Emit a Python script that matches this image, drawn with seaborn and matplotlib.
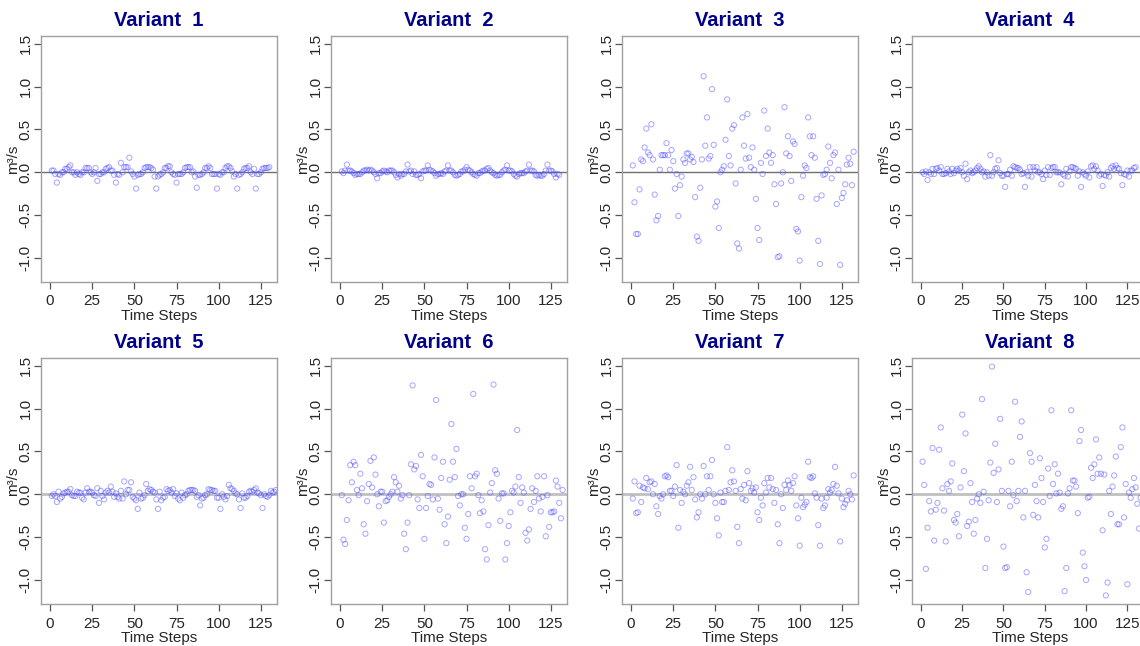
import numpy as np
import pandas as pd
import seaborn as sns
from matplotlib import pyplot as plt

# residuals per variant
variant_1 = [0.02, 0.02, -0.02, -0.12, -0.02, -0.03, 0, 0, 0.04, 0.04, 0.06, 0.08, 0, 0, -0.03, 0, -0.02, -0.03, 0, 0,
             0.05, 0.05, 0.05, 0, -0.02, 0, 0.05, -0.1, -0.02, -0.02, 0, 0, 0.04, 0.05, 0.06, 0.02, 0.02, -0.03, -0.12,
             -0.02, -0.03, 0.11, 0, 0.06, 0.06, 0.06, 0.17, 0.01, -0.02, -0.05, -0.19, -0.03, -0.02, -0.02, 0, 0.05,
             0.06, 0.06, 0.06, 0.05, 0.03, -0.05, -0.19, -0.05, -0.03, -0.02, 0, 0.05, 0.05, 0.07, 0.07, 0, -0.02,
             -0.03, -0.12, -0.02, -0.02, -0.02, 0, 0.05, 0.06, 0.06, 0.06, 0, 0.01, -0.05, -0.18, -0.03, -0.03, -0.02,
             0, 0.05, 0.05, 0.07, 0.05, -0.02, -0.02, -0.02, -0.19, -0.02, -0.03, 0, 0, 0.05, 0.07, 0.07, 0.05, 0.01,
             -0.05, -0.02, -0.19, -0.03, -0.02, 0, 0.04, 0.05, 0.05, 0.07, 0, -0.02, 0.04, -0.19, -0.02, -0.02, 0,
             0.04, 0.05, 0.05, 0.05, 0.06]
variant_2 = [0.01, -0.01, 0.02, 0.09, 0.02, 0.02, 0.01, -0.01, -0.03, -0.02, -0.02, -0.02, 0, 0.02, 0.02, 0.03, 0.02,
             0.03, 0.02, 0, -0.02, -0.07, -0.01, -0.01, 0.01, 0.02, 0.01, 0, 0.02, 0.02, 0.02, 0, -0.03, -0.06, -0.02,
             -0.04, -0.02, -0.02, 0.01, 0.09, 0.01, 0.02, -0.02, 0.01, -0.03, -0.03, -0.02, -0.07, 0.01, 0.02, 0.02,
             0.08, 0.03, 0.02, 0.01, -0.01, -0.04, -0.02, -0.02, -0.01, -0.02, 0.01, 0.02, 0.08, 0.02, 0.02, 0, -0.03,
             -0.04, -0.03, -0.02, 0.01, 0.01, 0.03, 0.06, 0.03, 0.02, 0, -0.02, -0.03, -0.04, -0.01, -0.01, 0.01, 0.02,
             0.02, 0.04, 0.05, 0.02, 0, -0.01, -0.03, -0.04, -0.03, -0.03, 0, 0.02, 0.03, 0.08, 0.02, 0.02, 0.01,
             -0.02, -0.04, -0.05, -0.02, -0.01, -0.01, -0.01, 0.01, 0.02, 0.09, 0.02, 0.02, 0.01, -0.03, -0.04, -0.03,
             -0.04, -0.04, -0.02, 0.02, 0.09, 0.02, 0.02, 0.01, -0.02, -0.06, -0.02, -0.03]
variant_3 = [0.08, -0.35, -0.72, -0.72, -0.2, 0.15, 0.13, 0.29, 0.51, 0.23, 0.2, 0.56, 0.15, -0.26, -0.56, -0.51,
             0.03, 0.2, 0.2, 0.2, 0.34, 0.2, 0.03, 0.26, 0.13, -0.19, -0.02, -0.51, -0.15, -0.05, 0.15, 0.11, 0.22,
             0.22, 0.15, 0.18, 0.12, -0.29, -0.75, -0.8, -0.18, 0.15, 1.12, 0.31, 0.64, 0.16, 0.19, 0.97, 0.32, -0.4,
             -0.34, -0.65, 0.0, 0.03, 0.07, 0.38, 0.85, 0.19, 0.08, 0.51, 0.55, -0.13, -0.83, -0.89, 0.03, 0.64, 0.31,
             0.16, 0.68, 0.17, 0.06, 0.29, 0.03, -0.31, -0.65, -0.79, 0.11, -0.02, 0.72, 0.19, 0.51, 0.23, 0.11, 0.2,
             -0.14, -0.37, -0.99, -0.98, -0.13, 0.0, 0.76, 0.22, 0.42, 0.19, -0.1, 0.36, 0.33, -0.66, -0.69, -1.03,
             -0.29, -0.04, 0.08, 0.05, 0.64, 0.42, 0.2, 0.42, 0.17, -0.31, -0.8, -1.07, -0.27, -0.03, -0.02, 0.03, 0.3,
             0.11, -0.07, 0.2, 0.23, -0.37, 0.03, -1.08, -0.3, -0.24, -0.14, 0.09, 0.17, 0.1, -0.15, 0.24]
variant_4 = [0, -0.02, 0.01, -0.09, 0, -0.02, 0.04, -0.02, 0.04, 0.05, 0.02, 0.06, -0.02, -0.02, -0.01, 0.04, 0.01,
             -0.02, 0.04, -0.01, 0.02, 0.04, 0.02, 0.05, 0, -0.04, 0.1, -0.08, 0, 0.02, -0.01, 0, 0.02, 0.05, 0.07,
             0.04, 0, 0.01, -0.05, 0, -0.04, 0.2, -0.04, 0, 0.04, 0.05, 0.14, -0.01, -0.04, -0.04, -0.17, -0.02, -0.02,
             0.03, -0.04, 0.07, 0.06, 0.05, 0.05, 0.03, -0.02, -0.01, -0.17, 0, -0.04, 0.06, -0.05, 0.06, 0.02, 0.06,
             0, 0, -0.02, -0.08, 0.02, -0.03, 0.06, -0.03, 0.05, 0.06, 0.06, 0, 0, 0, -0.14, -0.02, -0.04, 0.04, -0.05,
             0.01, 0.06, 0.06, 0.05, 0.04, -0.04, 0.01, -0.17, 0, -0.02, -0.04, 0.01, -0.06, 0.07, 0.08, 0.04, 0.07,
             0.02, -0.04, -0.02, -0.16, -0.03, -0.04, 0, -0.05, 0.05, 0.07, 0.04, 0.08, 0.05, 0.04, -0.01, -0.15, -0.02,
             -0.03, 0.02, -0.05, 0.02, 0.02, 0.05, 0.06]
variant_5 = [-0.02, 0, -0.02, -0.09, 0.03, -0.05, -0.03, 0.01, 0.02, 0.03, 0.03, 0.06, -0.01, -0.02, -0.02, 0.03, 0.02,
             0.02, -0.04, -0.06, 0.02, 0.07, 0.03, 0.03, 0.02, -0.01, -0.02, 0.07, -0.1, 0.04, -0.02, -0.06, 0.02, 0.04,
             0.02, 0.09, 0.03, -0.03, 0.01, -0.03, -0.05, 0.04, -0.05, 0.15, 0, 0.05, 0.05, 0.14, -0.03, -0.05, -0.07,
             -0.17, 0.02, -0.05, -0.04, -0.01, 0.12, 0.04, 0.06, 0.05, 0.03, 0.02, -0.06, -0.17, 0.03, -0.07, -0.04,
             -0.03, 0.06, 0.04, 0.05, 0.02, 0.06, -0.02, 0.01, -0.05, -0.07, 0.02, -0.04, -0.01, 0, 0.04, 0.05, 0.05,
             0.05, 0.04, -0.03, -0.01, -0.13, -0.05, -0.04, -0.01, 0, 0.06, 0.05, 0.05, 0.04, 0.04, -0.04, -0.04, -0.17,
             0, -0.03, -0.06, -0.02, 0.11, 0.07, 0.06, 0.04, 0.01, 0, -0.06, -0.16, 0.01, -0.04, -0.04, -0.02, 0.03,
             0.04, 0.03, 0.05, 0.07, 0.02, 0.01, -0.01, -0.16, 0, -0.02, -0.03, -0.01, 0.04, 0.02, 0.03, 0.05]
variant_6 = [-0.01, -0.53, -0.58, -0.3, -0.07, 0.34, 0.14, 0.38, 0.34, 0.05, -0.01, 0.24, 0.07, -0.35, -0.46, -0.08,
             0.12, 0.39, 0.08, 0.43, 0.23, 0.0, -0.14, 0.03, 0.03, -0.33, -0.08, -0.07, -0.03, 0.0, 0.03, 0.2, 0.14,
             0.03, 0.1, -0.05, -0.01, -0.46, -0.64, -0.33, -0.01, 0.35, 1.27, 0.29, 0.33, -0.06, -0.16, 0.46, 0.21,
             -0.52, -0.16, -0.02, 0.12, 0.11, -0.06, 0.43, 1.1, -0.05, -0.18, 0.19, 0.38, -0.35, -0.57, -0.26, 0.17,
             0.82, 0.38, 0.2, 0.53, -0.02, -0.13, 0.0, 0.0, -0.39, -0.52, -0.23, 0.21, 0.07, 1.17, 0.21, 0.24, -0.01,
             -0.22, -0.07, -0.2, -0.64, -0.76, -0.36, 0.02, 0.13, 1.28, 0.28, 0.24, -0.05, -0.31, 0.01, 0.01, -0.76,
             -0.57, -0.37, -0.21, 0.04, 0.02, 0.09, 0.75, 0.2, -0.1, 0.08, 0.02, -0.45, -0.54, -0.41, -0.17, 0.07,
             -0.09, 0.04, 0.21, -0.05, -0.2, -0.03, 0.21, -0.49, -0.01, -0.38, -0.21, -0.21, -0.2, 0.16, 0.09, -0.1,
             -0.28, 0.05]
variant_7 = [-0.05, 0.15, -0.22, -0.21, 0.1, -0.09, 0.08, 0.07, 0.19, 0.06, 0.14, 0.15, 0.0, 0.12, -0.14, -0.23,
             -0.02, -0.05, 0.0, 0.21, 0.22, 0.2, 0.04, 0.04, -0.02, 0.09, 0.34, -0.39, 0.05, -0.1, 0.03, 0.0, 0.1,
             0.14, 0.32, 0.05, 0.2, -0.06, -0.27, -0.21, 0.0, -0.05, 0.33, 0.0, 0.21, 0.05, 0.21, 0.4, 0.0, -0.1,
             -0.28, -0.48, 0.02, -0.09, -0.09, 0.04, 0.55, 0.05, 0.14, 0.28, 0.15, 0.04, -0.38, -0.57, 0.06, -0.05,
             0.11, -0.07, 0.27, 0.13, 0.04, 0.07, 0.02, 0.08, -0.21, -0.3, -0.04, -0.13, 0.13, 0.02, 0.19, 0.08, 0.19,
             0.06, -0.1, 0.05, -0.35, -0.57, 0.0, -0.16, 0.11, 0.05, 0.16, 0.11, 0.04, 0.13, 0.21, -0.13, -0.28, -0.6,
             -0.04, -0.15, -0.12, -0.09, 0.38, 0.2, 0.19, 0.21, 0.01, -0.04, -0.36, -0.6, -0.05, -0.16, -0.13, -0.04,
             0.06, 0.02, 0.05, 0.12, 0.32, 0.1, 0.01, -0.55, -0.05, -0.15, -0.11, -0.07, 0.04, 0.0, -0.06, 0.22]
variant_8 = [0.38, 0.11, -0.87, -0.39, -0.08, -0.2, 0.54, -0.54, -0.18, -0.1, 0.52, 0.78, 0.07, -0.19, -0.55, 0.12,
             0.04, 0.15, 0.36, -0.3, -0.33, -0.23, -0.49, 0.08, 0.93, 0.27, 0.71, -0.37, -0.32, 0.13, -0.09, -0.46,
             -0.3, -0.05, 0.0, -0.1, 1.11, 0.03, -0.86, -0.52, -0.07, 0.37, 1.49, 0.25, 0.59, -0.09, 0.29, 0.88, 0.04,
             -0.61, -0.86, -0.85, 0.04, -0.14, 0.38, -0.01, 1.08, -0.08, 0.04, 0.67, 0.85, -0.27, 0.04, -0.91, -1.14,
             0.48, 0.38, -0.24, 0.11, -0.08, -0.27, 0.42, 0.19, -0.09, -0.62, -0.52, 0.3, -0.02, 0.98, 0.12, 0.35,
             0.01, 0.24, 0.02, -0.17, -0.14, -1.13, -0.86, 0.01, 0.07, 0.98, 0.16, 0.16, 0.09, -0.22, 0.62, 0.75,
             -0.68, -0.84, -1.0, -0.04, -0.03, 0.31, 0.19, 0.35, 0.64, 0.24, 0.43, 0.24, -0.42, 0.23, -1.18, -1.03,
             0.04, -0.23, 0.09, 0.22, 0.44, -0.35, -0.35, 0.55, 0.78, -0.27, 0.12, -1.05, 0.02, -0.04, 0.06, 0.19,
             0.08, -0.11, -0.4, -0.04]

variants = [variant_1, variant_2, variant_3, variant_4, variant_5, variant_6, variant_7, variant_8]
y_ticks = [-1.0, -0.5, 0.0, 0.5, 1.0, 1.5]
x_ticks = [0, 25, 50, 75, 100, 125]

frames = []
for i, vals in enumerate(variants):
    frames.append(pd.DataFrame({"variant": i + 1, "step": np.arange(1, len(vals) + 1), "value": vals}))
df = pd.concat(frames, ignore_index=True)

sns.set_style("white")
plt.rcParams['font.family'] = ['Liberation Sans', 'DejaVu Sans']

W, H = 1140, 646
fig = plt.figure(figsize=(W / 100, H / 100), dpi=100)
col_left = [41, 331, 622, 912]
row_top = [36, 358]
ax_w, ax_h = 236, 246

for i in range(8):
    r, c = divmod(i, 4)
    ax = fig.add_axes([col_left[c] / W, 1 - (row_top[r] + ax_h) / H, ax_w / W, ax_h / H])
    sub = df[df["variant"] == i + 1]
    if r == 0:
        ax.axhline(0, color="#707070", lw=1.0, zorder=1)
    else:
        ax.axhline(0, color="#c0c0c0", lw=2.0, zorder=1)
    sns.scatterplot(data=sub, x="step", y="value", ax=ax, marker="o", s=14,
                    edgecolor=(0.3, 0.3, 1.0, 0.5), linewidth=0.7, zorder=2)
    ax.collections[-1].set_facecolor("none")
    # the right-hand column was drawn a little wider in x in the original
    ax.set_xlim(-5.4, 137.5 if c == 3 else 134.6)
    ax.set_ylim(-1.28, 1.59)
    ax.set_xticks(x_ticks)
    ax.set_yticks(y_ticks)
    ax.set_yticklabels([f"{t:.1f}" for t in y_ticks], rotation=90, va="center")
    ax.tick_params(axis="x", length=5, width=0.9, color="#555555", labelsize=11, pad=4, bottom=True)
    ax.tick_params(axis="y", length=5, width=0.9, color="#555555", labelsize=11, pad=1, left=True)
    for sp in ax.spines.values():
        sp.set_color("#a0a0a0")
        sp.set_linewidth(1.0)
    ax.set_xlabel("Time Steps", fontsize=11, labelpad=0.5)
    ax.set_ylabel("m³/s", fontsize=11, labelpad=-1)
    ax.set_title(f"Variant  {i + 1}", fontsize=14.5, fontweight="bold", color="#00008B", pad=7)

plt.savefig("out.png", dpi=100)
